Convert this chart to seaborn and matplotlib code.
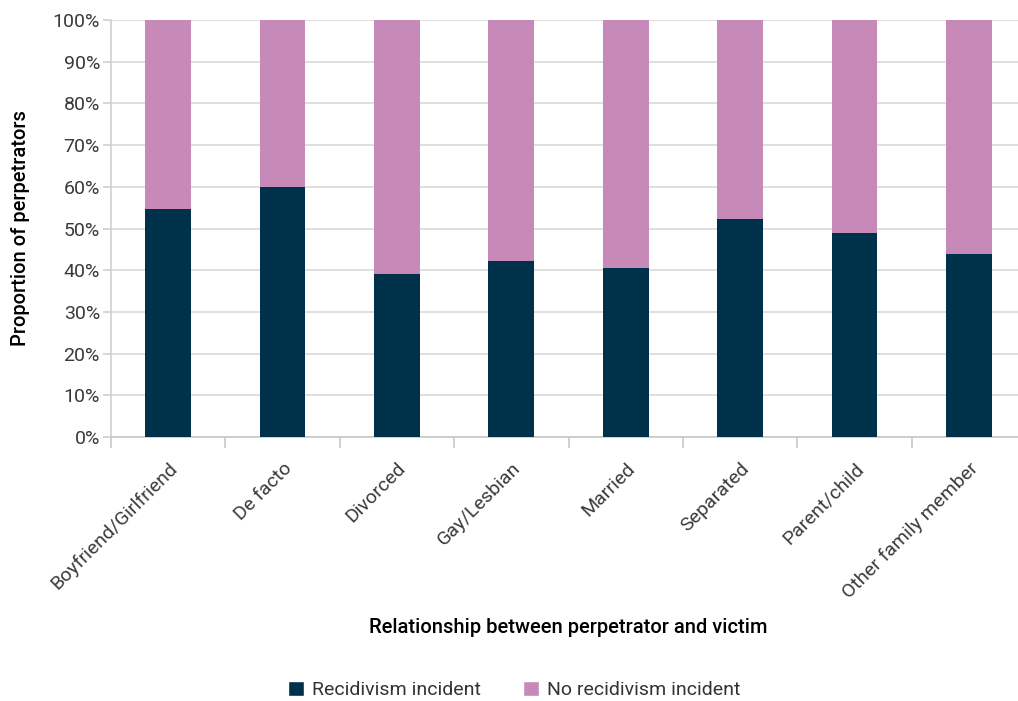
import matplotlib
matplotlib.use("Agg")
import matplotlib.pyplot as plt
from matplotlib.patches import Patch
from matplotlib.ticker import PercentFormatter, FixedLocator
import seaborn as sns
import pandas as pd

# Data
relationships = ["Boyfriend/Girlfriend", "De facto", "Divorced", "Gay/Lesbian",
                 "Married", "Separated", "Parent/child", "Other family member"]
recidivism = [54.7, 59.9, 39.1, 42.2, 40.5, 52.2, 48.9, 43.9]
no_recidivism = [45.3, 40.1, 60.9, 57.8, 59.5, 47.8, 51.1, 56.1]

navy = "#00314a"
pink = "#c689b8"

df = pd.DataFrame({"Relationship": relationships,
                   "Recidivism": recidivism,
                   "NoRecidivism": no_recidivism})
df["Total"] = df["Recidivism"] + df["NoRecidivism"]

sns.set_theme(style="white")
plt.rcParams["font.family"] = ["Roboto", "DejaVu Sans"]

fig = plt.figure(figsize=(10.18, 7.01), dpi=100)
ax = fig.add_axes([111 / 1018, 264 / 701, 915 / 1018, 417 / 701])

sns.barplot(data=df, x="Relationship", y="Total", color=pink, width=0.4,
            saturation=1, linewidth=0, ax=ax, zorder=2)
sns.barplot(data=df, x="Relationship", y="Recidivism", color=navy, width=0.4,
            saturation=1, linewidth=0, ax=ax, zorder=3)

ax.set_xlim(-0.5, len(relationships) - 0.5)
ax.set_ylim(0, 100)
ax.set_yticks(range(0, 101, 10))
ax.yaxis.set_major_formatter(PercentFormatter(decimals=0))
ax.grid(axis="y", color="#d9d9d9", linewidth=1.2, zorder=0)
ax.set_axisbelow(True)

for s in ["top", "right"]:
    ax.spines[s].set_visible(False)
ax.spines["left"].set_color("#d0d0d0")
ax.spines["bottom"].set_color("#c8c8c8")
ax.spines["left"].set_linewidth(1.2)
ax.spines["bottom"].set_linewidth(1.2)

ax.tick_params(axis="y", which="major", left=True, length=6, width=1.2,
               color="#d0d0d0", labelsize=14, labelcolor="#3a3a3a", pad=2)
ax.tick_params(axis="x", which="major", bottom=False, labelsize=14,
               labelcolor="#3a3a3a", pad=10)
ax.xaxis.set_minor_locator(FixedLocator([i - 0.5 for i in range(len(relationships) + 1)]))
ax.tick_params(axis="x", which="minor", bottom=True, length=8, width=1.2, color="#c8c8c8")
plt.setp(ax.get_xticklabels(), rotation=45, ha="right", rotation_mode="anchor")

ax.set_xlabel("Relationship between perpetrator and victim", fontsize=14.5,
              color="black", fontweight="medium")
ax.xaxis.set_label_coords(0.5, -0.435)
ax.set_ylabel("Proportion of perpetrators", fontsize=14.5, color="black",
              fontweight="medium")
ax.yaxis.set_label_coords(-0.088, 0.5)

handles = [Patch(facecolor=navy, label="Recidivism incident"),
           Patch(facecolor=pink, label="No recidivism incident")]
fig.legend(handles=handles, loc="center", bbox_to_anchor=(0.505, 0.016), ncol=2,
           frameon=False, handlelength=0.8, handleheight=0.8,
           handletextpad=0.4, columnspacing=2.2, labelcolor="#333333",
           prop={"size": 14})

fig.savefig("out.png", dpi=100)
